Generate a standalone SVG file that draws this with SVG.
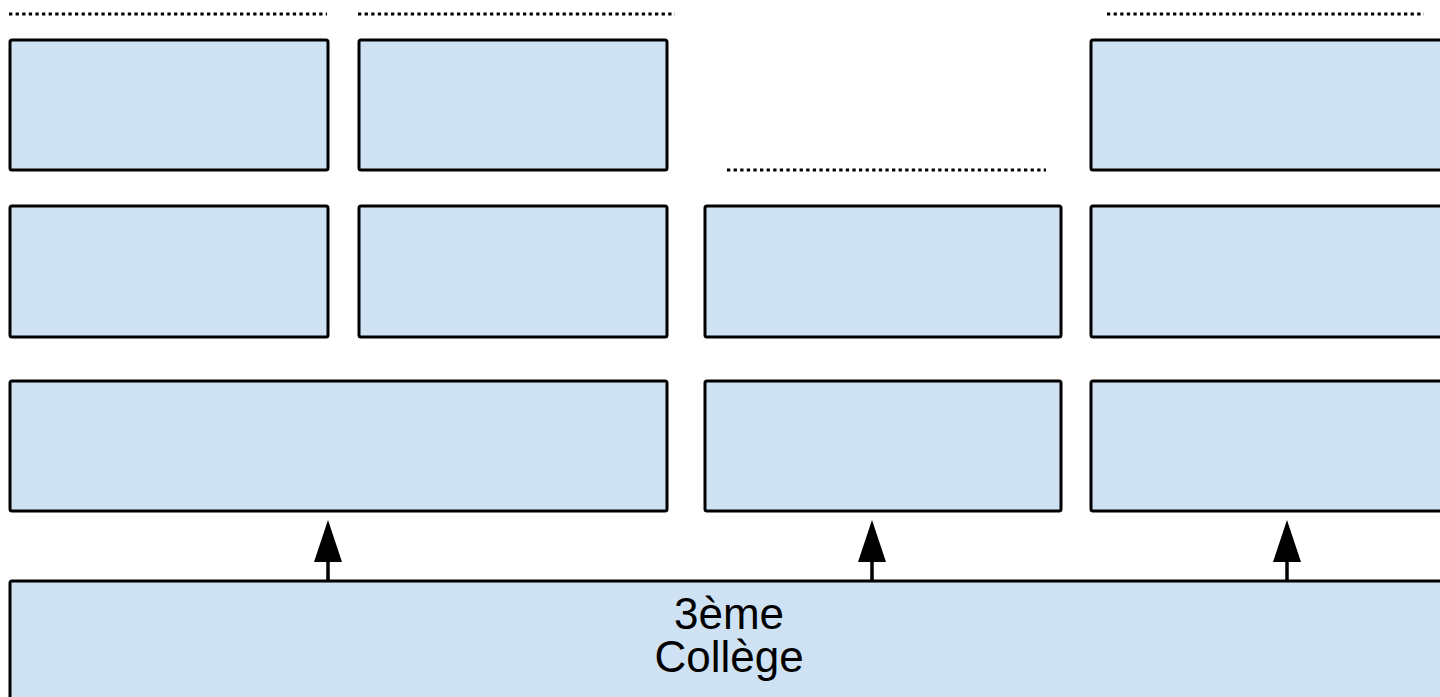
<svg xmlns="http://www.w3.org/2000/svg" width="1440" height="697" viewBox="0 0 1440 697">
<defs>
<style>
.box{fill:#cfe2f3;stroke:#000;stroke-width:3;}
.dot{stroke:#000;stroke-width:3;stroke-dasharray:3.3 3.3;fill:none;}
.conn{stroke:#000;stroke-width:3.5;fill:none;}
.lbl{font-family:"Liberation Sans",Arial,sans-serif;font-size:44px;fill:#000;text-anchor:middle;}
</style>
<marker id="arr" markerWidth="42" markerHeight="28" refX="0" refY="14" orient="auto" markerUnits="userSpaceOnUse" viewBox="0 0 42 28">
<path d="M0,0 L42,14 L0,28 Z" fill="#000"/>
</marker>
</defs>
<rect width="1440" height="697" fill="#fff"/>
<g id="dotted">
<line class="dot" x1="9" y1="14" x2="327" y2="14"/>
<line class="dot" x1="358" y1="14" x2="675" y2="14"/>
<line class="dot" x1="727" y1="170" x2="1046" y2="170"/>
<line class="dot" x1="1107" y1="14" x2="1424" y2="14"/>
</g>
<g id="r1c1"><rect class="box" x="10" y="40" width="318" height="130" rx="2"/></g>
<g id="r1c2"><rect class="box" x="359" y="40" width="308" height="130" rx="2"/></g>
<g id="r1c4"><rect class="box" x="1091" y="40" width="370" height="130" rx="2"/></g>
<g id="r2c1"><rect class="box" x="10" y="206" width="318" height="131" rx="2"/></g>
<g id="r2c2"><rect class="box" x="359" y="206" width="308" height="131" rx="2"/></g>
<g id="r2c3"><rect class="box" x="705" y="206" width="356" height="131" rx="2"/></g>
<g id="r2c4"><rect class="box" x="1091" y="206" width="370" height="131" rx="2"/></g>
<g id="r3c1"><rect class="box" x="10" y="381" width="657" height="130" rx="2"/></g>
<g id="r3c3"><rect class="box" x="705" y="381" width="356" height="130" rx="2"/></g>
<g id="r3c4"><rect class="box" x="1091" y="381" width="370" height="130" rx="2"/></g>
<g id="college">
<rect class="box" x="10" y="581" width="1450" height="140" rx="2"/>
<text class="lbl" x="729" y="629">3ème</text>
<text class="lbl" x="729" y="672">Collège</text>
</g>
<g id="connectors">
<line class="conn" x1="328" y1="580" x2="328" y2="562" marker-end="url(#arr)"/>
<line class="conn" x1="872" y1="580" x2="872" y2="562" marker-end="url(#arr)"/>
<line class="conn" x1="1287" y1="580" x2="1287" y2="562" marker-end="url(#arr)"/>
</g>
</svg>
